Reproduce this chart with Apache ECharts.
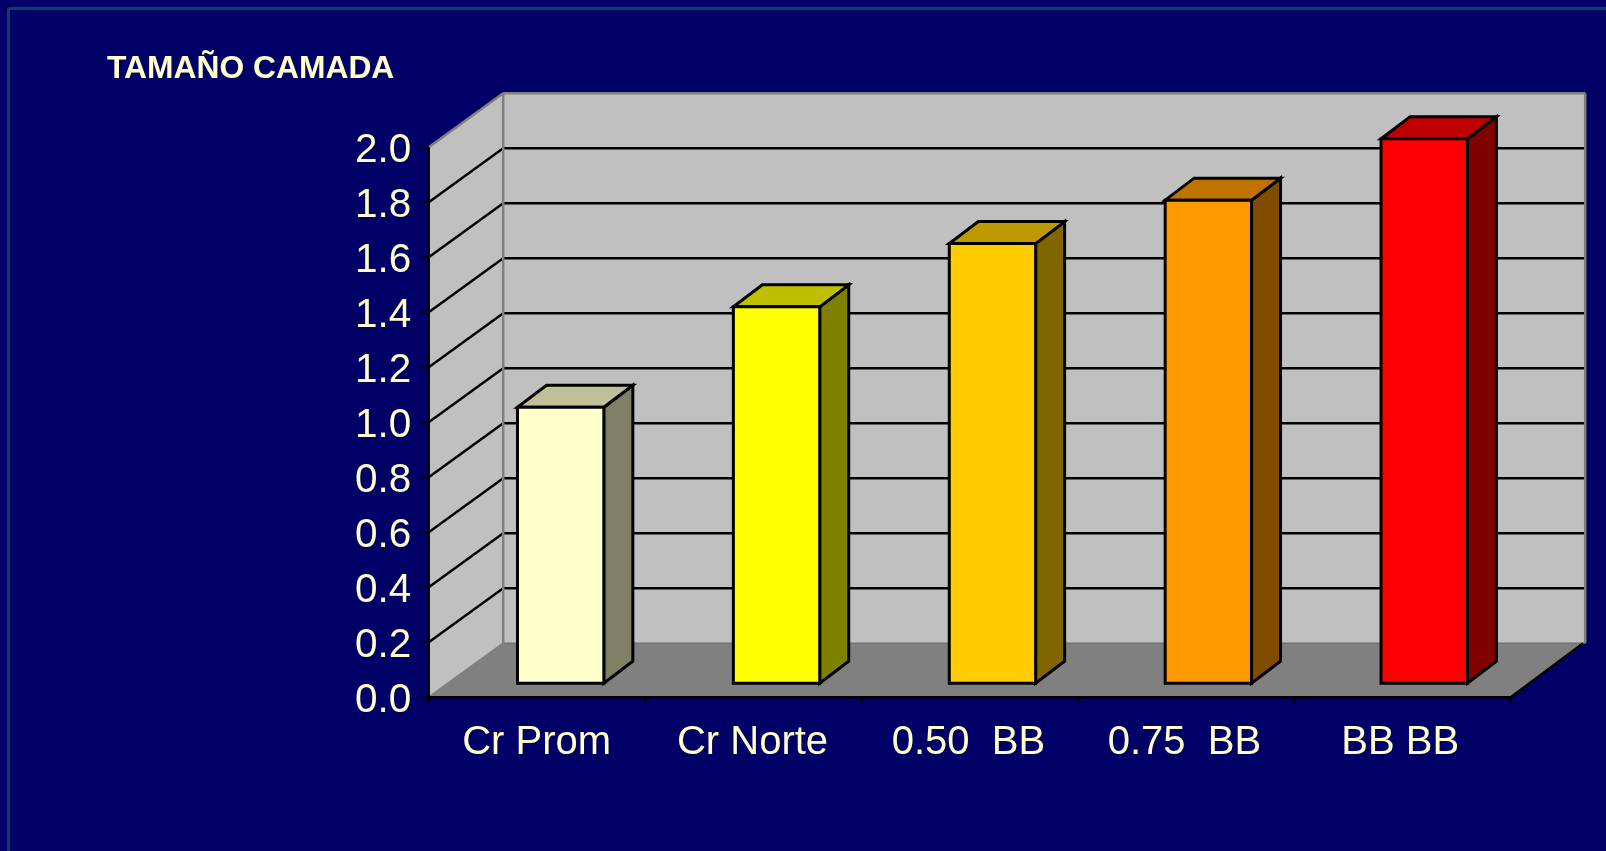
<!DOCTYPE html>
<html>
<head>
<meta charset="utf-8">
<style>html,body{margin:0;padding:0;background:#000066;overflow:hidden}#c{width:1606px;height:851px}</style>
<script src="https://cdn.jsdelivr.net/npm/echarts@6/dist/echarts.min.js"></script>
</head>
<body>
<div id="c"></div>
<script>
const categories = ['Cr Prom', 'Cr Norte', '0.50  BB', '0.75  BB', 'BB BB'];
const values = [1.004, 1.369, 1.599, 1.757, 1.98];
const frontColors = ['#FFFFCC', '#FFFF00', '#FFCC00', '#FF9900', '#FF0000'];
const topColors = ['#BFBF99', '#BFBF00', '#BF9900', '#BF7300', '#BF0000'];
const sideColors = ['#808066', '#808000', '#806600', '#804D00', '#800000'];
const yTicks = [0, 0.2, 0.4, 0.6, 0.8, 1.0, 1.2, 1.4, 1.6, 1.8, 2.0];
const gridValues = [0.2, 0.4, 0.6, 0.8, 1.0, 1.2, 1.4, 1.6, 1.8];
const titleText = 'TAMAÑO CAMADA';

const WALL_DX = 74.5, WALL_DY = 54, FLOOR_EXTRA = 2.5;
const BAR_DX = 29, BAR_DY = 22, BAR_SHIFT_X = 24, BAR_SHIFT_Y = 14;
const TICK = 7;
const TXT = '#FFFFCC', FONT = '"Liberation Sans", Arial, sans-serif';

function poly(points, fill, stroke, lw) {
  return { type: 'polygon', shape: { points }, style: { fill, stroke: stroke || 'none', lineWidth: lw || 0, lineJoin: 'miter' } };
}
function line(a, b, stroke, lw) {
  return { type: 'line', shape: { x1: a[0], y1: a[1], x2: b[0], y2: b[1] }, style: { stroke, lineWidth: lw } };
}

function renderScene(params, api) {
  const half = api.size([1, 0])[0] / 2;
  const x0 = api.coord([0, 0])[0] - half;
  const x1 = api.coord([categories.length - 1, 0])[0] + half + FLOOR_EXTRA;
  const yb = api.coord([0, 0])[1];
  const yt = api.coord([0, 2])[1];
  const bx0 = x0 + WALL_DX, bx1 = x1 + WALL_DX;
  const kids = [
    poly([[bx0, yt - WALL_DY], [bx1, yt - WALL_DY], [bx1, yb - WALL_DY], [bx0, yb - WALL_DY]], '#C0C0C0'),
    poly([[x0, yt], [bx0, yt - WALL_DY], [bx0, yb - WALL_DY], [x0, yb]], '#C0C0C0'),
    poly([[x0, yb], [x1, yb], [bx1, yb - WALL_DY], [bx0, yb - WALL_DY]], '#808080')
  ];
  gridValues.forEach(v => {
    const y = api.coord([0, v])[1];
    kids.push(line([x0, y], [bx0, y - WALL_DY], '#000000', 2.5));
    kids.push(line([bx0, y - WALL_DY], [bx1, y - WALL_DY], '#000000', 2.5));
  });
  kids.push(line([x0, yt], [bx0, yt - WALL_DY], '#808080', 2.5));
  kids.push(line([bx0, yt - WALL_DY], [bx1, yt - WALL_DY], '#808080', 2.5));
  kids.push(line([bx0, yt - WALL_DY], [bx0, yb - WALL_DY], '#808080', 2.5));
  kids.push(line([bx1, yt - WALL_DY], [bx1, yb - WALL_DY], '#808080', 2.5));
  kids.push(line([bx0, yb - WALL_DY], [bx1, yb - WALL_DY], '#737373', 1.5));
  kids.push(line([x0, yb], [bx0, yb - WALL_DY], '#808080', 2));
  kids.push(line([x1, yb], [bx1 - 2, yb - WALL_DY], '#000000', 2.5));
  // axis lines and ticks
  kids.push(line([x0, yt], [x0, yb], '#000000', 2.5));
  kids.push(line([x0, yb], [x1, yb], '#000000', 2.5));
  yTicks.forEach(v => {
    const y = api.coord([0, v])[1];
    kids.push(line([x0 - TICK, y], [x0, y], '#000000', 2));
  });
  const n = categories.length;
  for (let i = 0; i <= n; i++) {
    const x = x0 + (x1 - x0) * i / n;
    kids.push(line([x, yb], [x, yb + TICK], '#000000', 2));
  }
  return { type: 'group', children: kids };
}

function renderBar(params, api) {
  const i = api.value(0);
  const v = api.value(1);
  const base = api.coord([i, 0]);
  const top = api.coord([i, v]);
  const w = api.size([1, 0])[0] * 0.4;
  const l = base[0] + BAR_SHIFT_X - w / 2, r = l + w;
  const yb = base[1] - BAR_SHIFT_Y, yt = top[1] - BAR_SHIFT_Y;
  const K = '#000000', LW = 3;
  return {
    type: 'group',
    children: [
      poly([[r, yb], [r + BAR_DX, yb - BAR_DY], [r + BAR_DX, yt - BAR_DY], [r, yt]], sideColors[i], K, LW),
      poly([[l, yt], [r, yt], [r + BAR_DX, yt - BAR_DY], [l + BAR_DX, yt - BAR_DY]], topColors[i], K, LW),
      poly([[l, yb], [r, yb], [r, yt], [l, yt]], frontColors[i], K, LW)
    ]
  };
}

const chart = echarts.init(document.getElementById('c'), null, { renderer: 'canvas' });
chart.setOption({
  backgroundColor: '#000066',
  animation: false,
  title: {
    text: titleText, left: 102, top: 48,
    textStyle: { color: TXT, fontFamily: FONT, fontSize: 31.8, fontWeight: 'bold' }
  },
  graphic: [
    { type: 'line', shape: { x1: 8.5, y1: 851, x2: 8.5, y2: 8.5 }, style: { stroke: '#004466', lineWidth: 3 }, silent: true },
    { type: 'line', shape: { x1: 8.5, y1: 8.5, x2: 1606, y2: 8.5 }, style: { stroke: '#004466', lineWidth: 3 }, silent: true }
  ],
  grid: { left: 428.7, width: 1079.5, top: 147.3, height: 550, containLabel: false },
  xAxis: {
    type: 'category', data: categories, z: 5,
    axisLine: { show: false },
    axisTick: { show: false },
    axisLabel: { color: TXT, fontFamily: FONT, fontSize: 40, margin: 26, interval: 0 },
    splitLine: { show: false }
  },
  yAxis: {
    type: 'value', min: 0, max: 2, interval: 0.2, z: 5,
    axisLine: { show: false },
    axisTick: { show: false },
    axisLabel: {
      margin: 17.5,
      formatter: v => '{n|' + v.toFixed(1) + '}',
      rich: { n: { color: TXT, fontFamily: FONT, fontSize: 40.5, padding: [7, 0, 0, 0] } }
    },
    splitLine: { show: false }
  },
  series: [
    { type: 'custom', z: 1, silent: true, clip: false, renderItem: renderScene, data: [[0, 0]], encode: { x: 0, y: 1 } },
    { type: 'custom', z: 2, silent: true, clip: false, renderItem: renderBar, data: values.map((v, i) => [i, v]), encode: { x: 0, y: 1 } }
  ]
});
</script>
</body>
</html>
